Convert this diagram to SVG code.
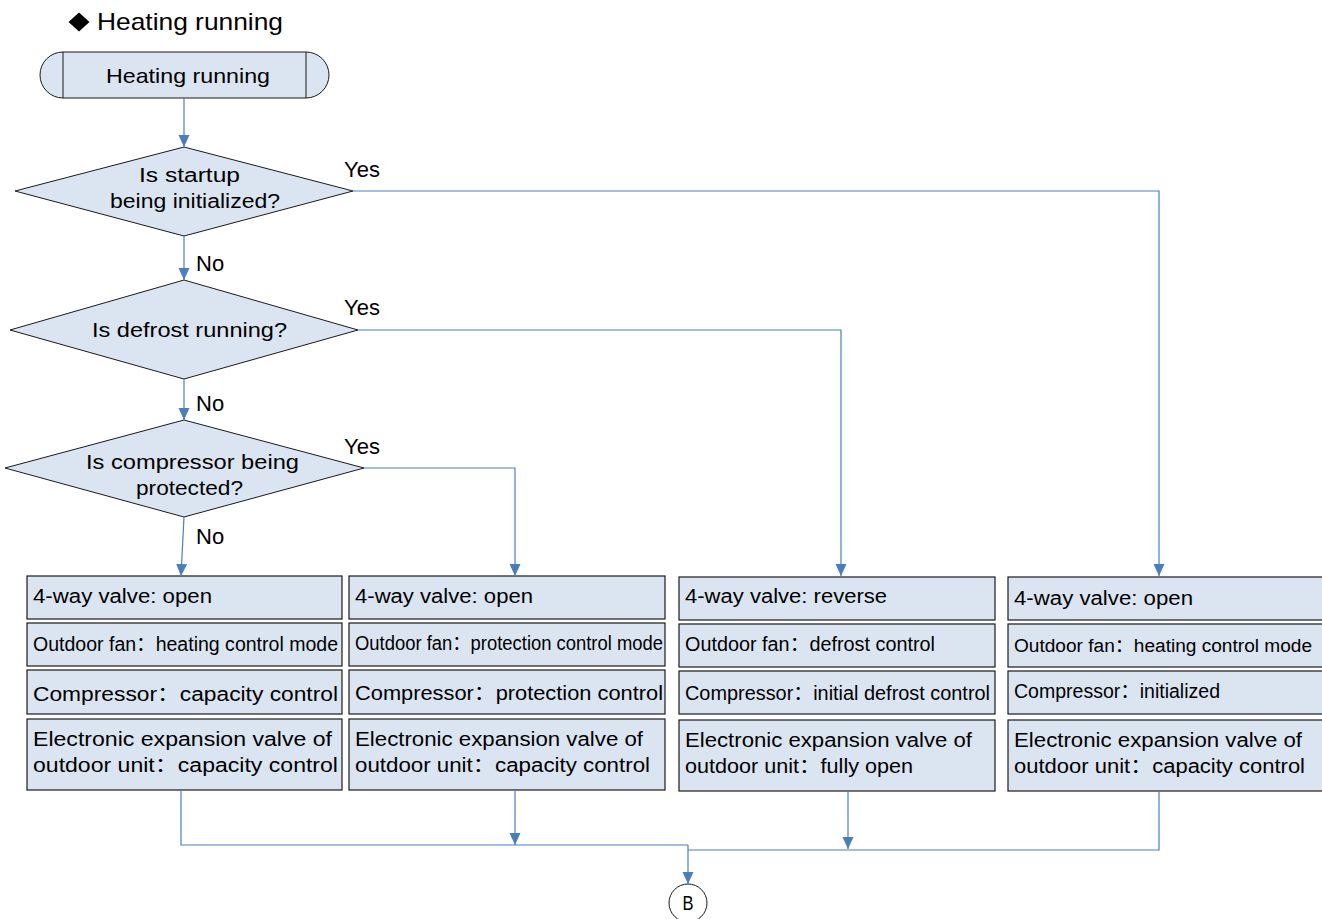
<svg xmlns="http://www.w3.org/2000/svg" width="1322" height="919" viewBox="0 0 1322 919">
<defs>
<marker id="ah" markerUnits="userSpaceOnUse" markerWidth="12" markerHeight="12" refX="12" refY="5.5" orient="auto">
<path d="M0,0 L12,5.5 L0,11 z" fill="#4a7ebb"/>
</marker>
<style>
text{font-family:"Liberation Sans","Noto Sans CJK SC",Arial,sans-serif;fill:#000;}
.t{font-size:20px;}
.shape{fill:#dbe5f1;stroke:#1a1a1a;stroke-width:1;}
.box{fill:#dbe5f1;stroke:#1a1a1a;stroke-width:1.2;}
.c{fill:none;stroke:#4a7ebb;stroke-width:1.2;}
.ca{fill:none;stroke:#4a7ebb;stroke-width:1.2;marker-end:url(#ah);}
.lbl{font-size:22px;}
</style>
</defs>
<rect width="1322" height="919" fill="#fff"/>

<g id="title">
<path d="M79,12.5 L89.5,22 L79,31.5 L68.5,22 z" fill="#000"/>
<text x="97" y="30" font-size="24" textLength="186" lengthAdjust="spacingAndGlyphs">Heating running</text>
</g>

<g id="start">
<path class="shape" d="M63,52 H306 A23,23 0 0 1 306,98 H63 A23,23 0 0 1 63,52 z"/>
<line x1="63" y1="52" x2="63" y2="98" stroke="#1a1a1a"/>
<line x1="306" y1="52" x2="306" y2="98" stroke="#1a1a1a"/>
<text x="106" y="83" font-size="21" textLength="164" lengthAdjust="spacingAndGlyphs">Heating running</text>
</g>

<g id="d1">
<path class="shape" d="M184,147 L353,191 L184,236 L15,191 z"/>
<text x="139" y="182" class="t" textLength="101" lengthAdjust="spacingAndGlyphs">Is startup</text>
<text x="110" y="208" class="t" textLength="170" lengthAdjust="spacingAndGlyphs">being initialized?</text>
</g>

<g id="d2">
<path class="shape" d="M184,280 L358,330 L184,379 L10,330 z"/>
<text x="92" y="337" class="t" textLength="195" lengthAdjust="spacingAndGlyphs">Is defrost running?</text>
</g>

<g id="d3">
<path class="shape" d="M184,420 L364,468 L184,517 L5,468 z"/>
<text x="86" y="469" class="t" textLength="213" lengthAdjust="spacingAndGlyphs">Is compressor being</text>
<text x="136" y="495" class="t" textLength="107" lengthAdjust="spacingAndGlyphs">protected?</text>
</g>

<g id="col1">
<rect class="box" x="27" y="576" width="315" height="43"/>
<rect class="box" x="27" y="623" width="315" height="43"/>
<rect class="box" x="27" y="670" width="315" height="44"/>
<rect class="box" x="27" y="719" width="315" height="71"/>
<text x="33" y="603" class="t" textLength="179" lengthAdjust="spacingAndGlyphs">4-way valve: open</text>
<text x="33" y="651" class="t" textLength="305" lengthAdjust="spacingAndGlyphs">Outdoor fan：heating control mode</text>
<text x="33" y="701" class="t" textLength="305" lengthAdjust="spacingAndGlyphs">Compressor：capacity control</text>
<text x="33" y="746" class="t" textLength="299" lengthAdjust="spacingAndGlyphs">Electronic expansion valve of</text>
<text x="33" y="772" class="t" textLength="305" lengthAdjust="spacingAndGlyphs">outdoor unit：capacity control</text>
</g>

<g id="col2">
<rect class="box" x="349" y="576" width="316" height="43"/>
<rect class="box" x="349" y="623" width="316" height="43"/>
<rect class="box" x="349" y="670" width="316" height="44"/>
<rect class="box" x="349" y="719" width="316" height="71"/>
<text x="355" y="603" class="t" textLength="178" lengthAdjust="spacingAndGlyphs">4-way valve: open</text>
<text x="355" y="650" class="t" textLength="308" lengthAdjust="spacingAndGlyphs">Outdoor fan：protection control mode</text>
<text x="355" y="700" class="t" textLength="308" lengthAdjust="spacingAndGlyphs">Compressor：protection control</text>
<text x="355" y="746" class="t" textLength="288" lengthAdjust="spacingAndGlyphs">Electronic expansion valve of</text>
<text x="355" y="772" class="t" textLength="295" lengthAdjust="spacingAndGlyphs">outdoor unit：capacity control</text>
</g>

<g id="col3">
<rect class="box" x="679" y="577" width="316" height="43"/>
<rect class="box" x="679" y="624" width="316" height="43"/>
<rect class="box" x="679" y="671" width="316" height="43"/>
<rect class="box" x="679" y="720" width="316" height="71"/>
<text x="685" y="603" class="t" textLength="202" lengthAdjust="spacingAndGlyphs">4-way valve: reverse</text>
<text x="685" y="651" class="t" textLength="250" lengthAdjust="spacingAndGlyphs">Outdoor fan：defrost control</text>
<text x="685" y="700" class="t" textLength="305" lengthAdjust="spacingAndGlyphs">Compressor：initial defrost control</text>
<text x="685" y="747" class="t" textLength="287" lengthAdjust="spacingAndGlyphs">Electronic expansion valve of</text>
<text x="685" y="773" class="t" textLength="228" lengthAdjust="spacingAndGlyphs">outdoor unit：fully open</text>
</g>

<g id="col4">
<rect class="box" x="1008" y="577" width="320" height="43"/>
<rect class="box" x="1008" y="624" width="320" height="43"/>
<rect class="box" x="1008" y="671" width="320" height="43"/>
<rect class="box" x="1008" y="720" width="320" height="71"/>
<text x="1014" y="605" class="t" textLength="179" lengthAdjust="spacingAndGlyphs">4-way valve: open</text>
<text x="1014" y="652" font-size="18" textLength="298" lengthAdjust="spacingAndGlyphs">Outdoor fan：heating control mode</text>
<text x="1014" y="698" class="t" textLength="206" lengthAdjust="spacingAndGlyphs">Compressor：initialized</text>
<text x="1014" y="747" class="t" textLength="288" lengthAdjust="spacingAndGlyphs">Electronic expansion valve of</text>
<text x="1014" y="773" class="t" textLength="291" lengthAdjust="spacingAndGlyphs">outdoor unit：capacity control</text>
</g>

<g id="end">
<circle cx="688" cy="903" r="19" fill="#fff" stroke="#1a1a1a" stroke-width="1"/>
<text x="688" y="910" font-size="20" text-anchor="middle" textLength="11" lengthAdjust="spacingAndGlyphs">B</text>
</g>

<g id="connectors">
<path class="ca" d="M184,98 V147"/>
<path class="ca" d="M184,236 V280"/>
<path class="ca" d="M353,191 H1159 V576"/>
<path class="ca" d="M184,379 V420"/>
<path class="ca" d="M358,330 H841 V576"/>
<path class="ca" d="M184,517 L181,576"/>
<path class="ca" d="M364,468 H515 V576"/>
<path class="c" d="M181,790 V845 H688"/>
<path class="ca" d="M515,790 V845"/>
<path class="ca" d="M848,791 V849"/>
<path class="c" d="M1159,791 V850 H688"/>
<path class="ca" d="M688,845 V884"/>
</g>

<g id="labels">
<text x="344" y="177" class="lbl">Yes</text>
<text x="196" y="271" class="lbl">No</text>
<text x="344" y="315" class="lbl">Yes</text>
<text x="196" y="411" class="lbl">No</text>
<text x="344" y="454" class="lbl">Yes</text>
<text x="196" y="544" class="lbl">No</text>
</g>
</svg>
